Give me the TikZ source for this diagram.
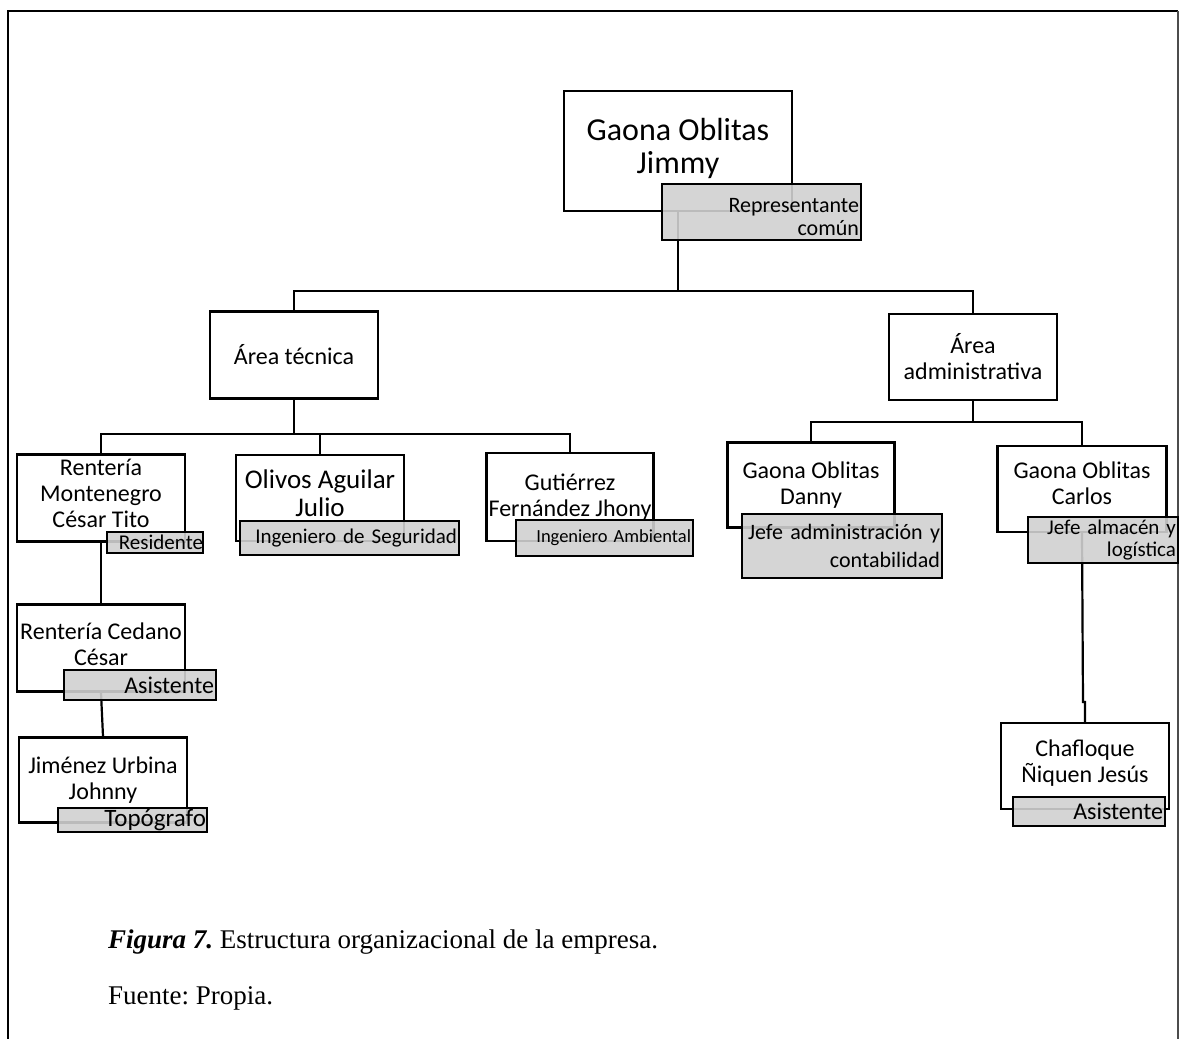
\documentclass[tikz,border=0pt]{standalone}
\usepackage{fontspec}
\setmainfont{Liberation Serif}
\newfontfamily\orgfont{Carlito}
\usepackage{xcolor}
\definecolor{rolgris}{RGB}{208,208,208}
\usetikzlibrary{positioning}
\frenchspacing

\begin{document}
\begin{tikzpicture}[x=1pt,y=-1pt,
      persona/.style={rectangle,draw,line width=2.3pt,align=center,inner sep=1pt,
                      font=\orgfont\fontsize{24}{26}\selectfont},
      rol/.style={rectangle,draw,line width=2pt,fill=rolgris,fill opacity=0.9,text opacity=1,
                  align=right,inner sep=2pt,font=\orgfont\fontsize{22}{23}\selectfont},
      linea/.style={line width=2.2pt}]
    \useasboundingbox (0,0) rectangle (1179,1039);
    % marco
    \draw[line width=2.6pt] (8,1039) -- (8,11) -- (1178,11);
    \draw[line width=1.3pt,black!70] (1178,11) -- (1178,1039);
    % cajas
    \node[persona,minimum width=228pt,minimum height=120pt,text depth=10pt,font=\orgfont\fontsize{32}{33}\selectfont] (jimmy) at (678,151) {Gaona Oblitas\\Jimmy};
    \node[persona,minimum width=168pt,minimum height=87pt] (tec) at (294,355) {Área técnica};
    \node[persona,minimum width=168pt,minimum height=86pt] (adm) at (973,357) {Área\\administrativa};
    \node[persona,minimum width=168pt,minimum height=87pt,text depth=10pt] (renteria) at (101,498) {Rentería\\Montenegro\\César Tito};
    \node[persona,minimum width=168pt,minimum height=86pt,text depth=9pt,font=\orgfont\fontsize{27}{28}\selectfont] (olivos) at (320,498) {Olivos Aguilar\\Julio};
    \node[persona,minimum width=167pt,minimum height=88pt] (gutierrez) at (570,497) {Gutiérrez\\Fernández Jhony};
    \node[persona,minimum width=167pt,minimum height=85pt] (danny) at (811,485) {Gaona Oblitas\\Danny};
    \node[persona,minimum width=169pt,minimum height=86pt,text depth=11pt] (carlos) at (1082,489) {Gaona Oblitas\\Carlos};
    \node[persona,minimum width=168pt,minimum height=87pt,text depth=8pt] (cedano) at (101,648) {Rentería Cedano\\César};
    \node[persona,minimum width=168pt,minimum height=85pt] (jimenez) at (103,780) {Jiménez Urbina\\Johnny};
    \node[persona,minimum width=168pt,minimum height=86pt,text depth=9pt] (chafloque) at (1085,766) {Chafloque\\Ñiquen Jesús};
    % conectores
    \coordinate (bj) at (678,291);
    \coordinate (bt) at (294,434);
    \coordinate (ba) at (973,422);
    \coordinate (jog) at (1083,702);
    \draw[linea] (jimmy.south) -- ++(0,29) -- (bj);
    \draw[linea] (tec.north) |- (bj) -| (adm.north);
    \draw[linea] (tec.south) -- (bt);
    \draw[linea] (renteria.north) |- (bt) -| (gutierrez.north);
    \draw[linea] (bt) -| (olivos.north);
    \draw[linea] (adm.south) -- (ba);
    \draw[linea] (danny.north) |- (ba) -| (carlos.north);
    \draw[linea] (renteria.south) -- (cedano.north);
    \draw[linea] (cedano.south) -- (jimenez.north);
    \draw[linea] (carlos.south) -- (jog) -| (chafloque.north);
    % cargos
    \node[rol,text width=195pt,minimum height=56pt,text height=24pt] (jimmyrol) at (761.5,212) {Representante\\común};
    \node[rol,text width=96pt,minimum height=21pt,inner sep=0pt,font=\orgfont\fontsize{21}{22}\selectfont] (renteriarol) at (155,542.5) {Residente};
    \node[rol,text width=215pt,minimum height=34pt,font=\orgfont\fontsize{21}{22}\selectfont] (olivosrol) at (349.5,538) {Ingeniero de Seguridad};
    \node[rol,text width=173pt,minimum height=36pt,font=\orgfont\fontsize{18.5}{20}\selectfont] (gutierrezrol) at (604.5,538) {Ingeniero Ambiental};
    \node[rol,text width=196pt,minimum height=64pt,font=\orgfont\fontsize{22}{28}\selectfont] (dannyrol) at (842,546) {Jefe administración y\\contabilidad};
    \node[rol,text width=146pt,minimum height=46pt,font=\orgfont\fontsize{21}{22}\selectfont] (carlosrol) at (1103,540) {Jefe almacén y\\logística};
    \node[rol,text width=148pt,minimum height=30pt,font=\orgfont\fontsize{24}{25}\selectfont] (cedanorol) at (140,685) {Asistente};
    \node[rol,text width=147pt,minimum height=24pt,inner sep=1pt,font=\orgfont\fontsize{25}{25}\selectfont] (jimenezrol) at (132.5,820) {Topógrafo};
    \node[rol,text width=148pt,minimum height=29pt,font=\orgfont\fontsize{24}{25}\selectfont] (chafloquerol) at (1089,811.5) {Asistente};
    % pie de figura
    \node[anchor=base west,inner sep=0pt,font=\fontsize{27}{30}\selectfont] (pie) at (108,948)
      {\textbf{\textit{Figura 7.}} Estructura organizacional de la empresa.};
    \node[anchor=base west,inner sep=0pt,font=\fontsize{27}{30}\selectfont] (fuente) at (108,1004)
      {Fuente: Propia.};
  \end{tikzpicture}
\end{document}
